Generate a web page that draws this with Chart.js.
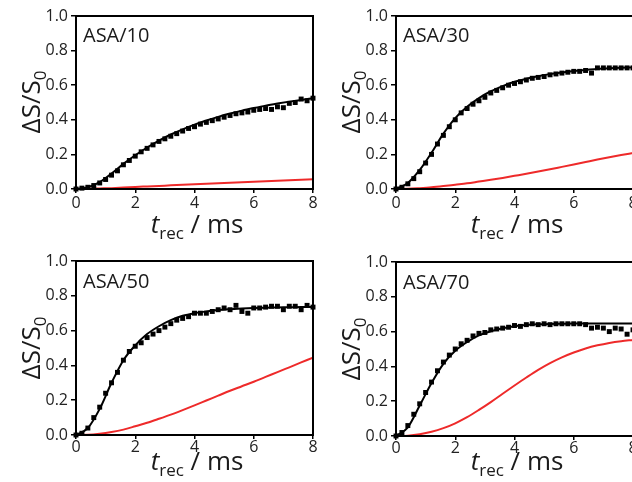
<!DOCTYPE html>
<html><head><meta charset="utf-8">
<script src="https://cdn.jsdelivr.net/npm/chart.js@4.4.1/dist/chart.umd.min.js"></script>
<style>
html,body{margin:0;padding:0;background:#fff;overflow:hidden;width:632px;height:482px;position:relative;}
.panel{position:absolute;width:320px;height:241px;}
canvas{display:block;}
.txt{position:absolute;font-family:"Open Sans",sans-serif;color:#1a1a1a;line-height:1;white-space:nowrap;}
.plabel{font-size:20px;}
.xtitle{font-size:26px;transform:translateX(-50%);}
.xtitle sub{font-size:17px;vertical-align:baseline;position:relative;top:6px;}
.ytitle{font-size:26px;transform:translate(-50%,-50%) rotate(-90deg);}
.ytitle sub{font-size:17px;vertical-align:baseline;position:relative;top:6px;}
</style></head><body>
<div class="panel" style="left:0;top:0"><canvas id="c1" width="320" height="241"></canvas></div>
<div class="panel" style="left:320px;top:0"><canvas id="c2" width="320" height="241"></canvas></div>
<div class="panel" style="left:0;top:241px"><canvas id="c3" width="320" height="241"></canvas></div>
<div class="panel" style="left:320px;top:241px"><canvas id="c4" width="320" height="241"></canvas></div>

<div class="txt plabel" style="left:83px;top:25px">ASA/10</div>
<div class="txt plabel" style="left:403px;top:25px">ASA/30</div>
<div class="txt plabel" style="left:83px;top:271px">ASA/50</div>
<div class="txt plabel" style="left:403px;top:272px">ASA/70</div>

<div class="txt xtitle" style="left:197px;top:210px"><i>t</i><sub>rec</sub> / ms</div>
<div class="txt xtitle" style="left:517px;top:210px"><i>t</i><sub>rec</sub> / ms</div>
<div class="txt xtitle" style="left:197px;top:447px"><i>t</i><sub>rec</sub> / ms</div>
<div class="txt xtitle" style="left:517px;top:447px"><i>t</i><sub>rec</sub> / ms</div>

<div class="txt ytitle" style="left:30px;top:102px">ΔS/S<sub>0</sub></div>
<div class="txt ytitle" style="left:350px;top:102px">ΔS/S<sub>0</sub></div>
<div class="txt ytitle" style="left:30px;top:348px">ΔS/S<sub>0</sub></div>
<div class="txt ytitle" style="left:350px;top:349px">ΔS/S<sub>0</sub></div>

<script>
// time axes (ms)
const tData = [0,0.2,0.4,0.6,0.8,1,1.2,1.4,1.6,1.8,2,2.2,2.4,2.6,2.8,3,3.2,3.4,3.6,3.8,4,4.2,4.4,4.6,4.8,5,5.2,5.4,5.6,5.8,6,6.2,6.4,6.6,6.8,7,7.2,7.4,7.6,7.8,8];
const tFit = [0,0.4,0.8,1.2,1.6,2,2.4,2.8,3.2,3.6,4,4.4,4.8,5.2,5.6,6,6.4,6.8,7.2,7.6,8];
const xTicks = [0,2,4,6,8];
const panelLabels = ['ASA/10','ASA/30','ASA/50','ASA/70'];

// ASA/10
const asa10Data = [0,0.005,0.01,0.02,0.035,0.055,0.08,0.105,0.14,0.165,0.19,0.215,0.235,0.255,0.275,0.29,0.305,0.32,0.335,0.35,0.36,0.375,0.385,0.395,0.405,0.415,0.425,0.435,0.44,0.445,0.455,0.46,0.465,0.46,0.475,0.47,0.495,0.50,0.52,0.51,0.525];
const asa10Fit = [0,0.01,0.04,0.09,0.145,0.195,0.24,0.28,0.315,0.345,0.372,0.396,0.417,0.436,0.453,0.468,0.482,0.494,0.505,0.515,0.524];
const asa10Red = [0,0.001,0.003,0.005,0.008,0.012,0.015,0.018,0.021,0.024,0.027,0.030,0.033,0.036,0.039,0.042,0.045,0.048,0.051,0.054,0.057];

// ASA/30
const asa30Data = [0,0.01,0.03,0.06,0.10,0.15,0.20,0.26,0.31,0.36,0.40,0.44,0.465,0.49,0.51,0.53,0.555,0.57,0.585,0.60,0.61,0.62,0.63,0.64,0.645,0.65,0.66,0.665,0.67,0.675,0.68,0.68,0.685,0.67,0.70,0.70,0.70,0.70,0.70,0.70,0.70];
const asa30Fit = [0,0.035,0.11,0.21,0.32,0.41,0.475,0.525,0.565,0.595,0.62,0.637,0.652,0.664,0.674,0.682,0.688,0.694,0.698,0.701,0.703];
const asa30Red = [0,0.001,0.005,0.010,0.017,0.025,0.033,0.043,0.053,0.064,0.076,0.088,0.101,0.114,0.128,0.142,0.156,0.170,0.183,0.196,0.208];

// ASA/50
const asa50Data = [0,0.01,0.04,0.10,0.16,0.24,0.30,0.36,0.43,0.48,0.51,0.53,0.56,0.58,0.60,0.62,0.64,0.66,0.67,0.68,0.70,0.70,0.70,0.71,0.72,0.73,0.72,0.745,0.71,0.70,0.73,0.73,0.735,0.74,0.74,0.72,0.74,0.74,0.72,0.745,0.735];
const asa50Fit = [0,0.04,0.15,0.30,0.43,0.515,0.58,0.625,0.66,0.685,0.70,0.71,0.718,0.723,0.727,0.73,0.732,0.733,0.734,0.735,0.735];
const asa50Red = [0,0.001,0.007,0.017,0.031,0.05,0.07,0.093,0.117,0.143,0.17,0.198,0.226,0.254,0.28,0.306,0.334,0.361,0.389,0.417,0.445];

// ASA/70
const asa70Data = [0,0.02,0.06,0.125,0.185,0.25,0.31,0.375,0.425,0.465,0.50,0.53,0.55,0.575,0.59,0.595,0.61,0.615,0.62,0.625,0.635,0.63,0.64,0.645,0.64,0.645,0.64,0.645,0.645,0.645,0.645,0.645,0.64,0.62,0.625,0.62,0.60,0.62,0.615,0.585,0.61];
const asa70Fit = [0,0.05,0.175,0.305,0.415,0.49,0.54,0.578,0.602,0.619,0.631,0.638,0.642,0.644,0.645,0.646,0.646,0.646,0.646,0.646,0.646];
const asa70Red = [0,0.002,0.01,0.024,0.045,0.073,0.108,0.15,0.195,0.243,0.29,0.336,0.38,0.419,0.452,0.48,0.503,0.521,0.535,0.545,0.552];

const pts = (xs, ys) => xs.map((x, i) => ({x, y: ys[i]}));

const frame = {
  id: 'frame',
  afterDatasetsDraw(chart) {
    const {ctx, chartArea: a} = chart;
    ctx.save();
    ctx.strokeStyle = '#000';
    ctx.lineWidth = 2;
    ctx.strokeRect(a.left, a.top, a.right - a.left, a.bottom - a.top);
    ctx.restore();
  }
};

function makeChart(id, data, fit, red, padTop, axisH, xPad) {
  new Chart(document.getElementById(id), {
    type: 'scatter',
    data: {
      datasets: [
        {type: 'scatter', data: pts(tData, data), pointStyle: 'rect', pointRadius: 3.5,
         backgroundColor: '#000', borderColor: '#000', borderWidth: 0, order: 0, clip: 6},
        {type: 'line', data: pts(tFit, fit), borderColor: '#000', borderWidth: 2,
         pointRadius: 0, cubicInterpolationMode: 'monotone', order: 1, fill: false},
        {type: 'line', data: pts(tFit, red), borderColor: '#ee2a2a', borderWidth: 2,
         pointRadius: 0, cubicInterpolationMode: 'monotone', order: 2, fill: false}
      ]
    },
    options: {
      responsive: false, animation: false, devicePixelRatio: 1,
      layout: {padding: {top: padTop, right: 7, left: 0, bottom: 0}},
      plugins: {legend: {display: false}, tooltip: {enabled: false}},
      scales: {
        x: {
          type: 'linear', min: 0, max: 8,
          afterBuildTicks: s => { s.ticks = xTicks.map(v => ({value: v})); },
          afterFit: s => { s.height = axisH; },
          ticks: {color: '#222', font: {family: 'Open Sans', size: 16}, padding: xPad, maxRotation: 0,
                  callback: v => String(v)},
          grid: {drawOnChartArea: false, drawTicks: true, tickLength: 4, color: '#000', lineWidth: 1.5},
          border: {display: true, color: '#000', width: 2}
        },
        y: {
          type: 'linear', min: 0, max: 1,
          afterFit: s => { s.width = 76; },
          ticks: {stepSize: 0.1, color: '#222', font: {family: 'Open Sans', size: 16}, padding: 3,
                  callback: v => { const k = Math.round(v * 10); return k % 2 === 0 ? (k / 10).toFixed(1) : ''; }},
          grid: {drawOnChartArea: false, drawTicks: true, tickLength: 5, color: '#000', lineWidth: 1.5},
          border: {display: true, color: '#000', width: 2}
        }
      }
    },
    plugins: [frame]
  });
}

makeChart('c1', asa10Data, asa10Fit, asa10Red, 16, 52, 1);
makeChart('c2', asa30Data, asa30Fit, asa30Red, 16, 52, 1);
makeChart('c3', asa50Data, asa50Fit, asa50Red, 20, 47, -1);
makeChart('c4', asa70Data, asa70Fit, asa70Red, 21, 46, -1);
</script>
</body></html>
